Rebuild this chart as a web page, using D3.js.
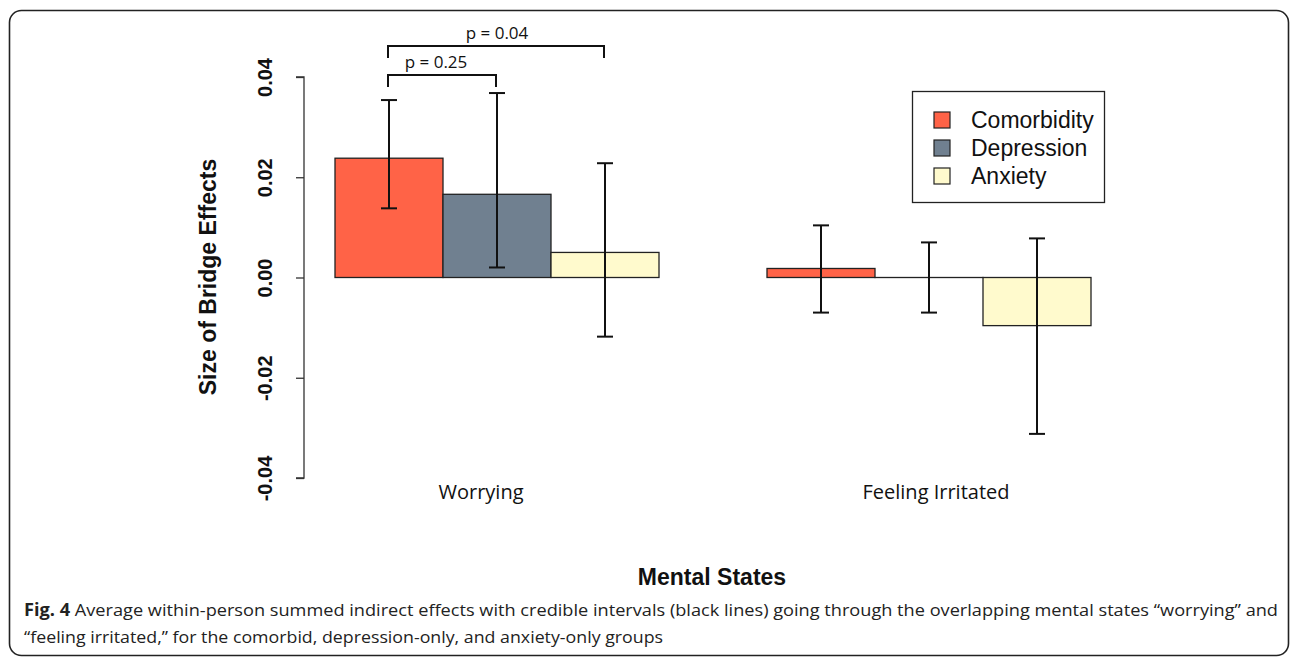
<!DOCTYPE html>
<html><head><meta charset="utf-8">
<script src="https://cdn.jsdelivr.net/npm/d3@7/dist/d3.min.js"></script>
<style>body{margin:0;background:#fff}svg{display:block}</style>
</head><body>
<svg id="c" width="1295" height="661"></svg>
<script>
const categories = ["Worrying", "Feeling Irritated"];
const groups = ["Comorbidity", "Depression", "Anxiety"];
const colors = ["#FF6347", "#708090", "#FFFACD"];
const values = {Worrying: [0.0238, 0.0166, 0.0050], "Feeling Irritated": [0.0018, 0.0, -0.0096]};
const lower = {Worrying: [0.0138, 0.0020, -0.0118], "Feeling Irritated": [-0.0070, -0.0070, -0.0312]};
const upper = {Worrying: [0.0354, 0.0368, 0.0228], "Feeling Irritated": [0.0104, 0.0070, 0.0078]};
const yTicks = [-0.04, -0.02, 0.00, 0.02, 0.04];
const comparisons = [{from: 0, to: 1, label: "p = 0.25", level: 0}, {from: 0, to: 2, label: "p = 0.04", level: 1}];

const svg = d3.select("#c");
const y = d3.scaleLinear().domain([-0.04, 0.04]).range([478, 77]);
// bar units: each bar width 1, one unit gap between groups
const x = d3.scaleLinear().domain([0, 7]).range([335, 1091]);

// outer frame
svg.append("rect").attr("x", 9.5).attr("y", 10.5).attr("width", 1279).attr("height", 645)
  .attr("rx", 12).attr("fill", "none").attr("stroke", "#222").attr("stroke-width", 1.6);

const data = [];
categories.forEach((c, gi) => groups.forEach((g, i) => {
  data.push({cat: c, grp: g, i, u: gi * 4 + i, v: values[c][i], lo: lower[c][i], hi: upper[c][i]});
}));

// bars
svg.append("g").selectAll("rect").data(data).join("rect")
  .attr("x", d => x(d.u)).attr("width", d => x(d.u + 1) - x(d.u))
  .attr("y", d => y(Math.max(0, d.v))).attr("height", d => Math.max(0.01, Math.abs(y(d.v) - y(0))))
  .attr("fill", d => colors[d.i]).attr("stroke", "#222").attr("stroke-width", 1.3);

// error bars
const eb = svg.append("g").attr("stroke", "#111").attr("stroke-width", 2);
data.forEach(d => {
  const cx = x(d.u + 0.5);
  eb.append("line").attr("x1", cx).attr("x2", cx).attr("y1", y(d.lo)).attr("y2", y(d.hi));
  [d.lo, d.hi].forEach(v => eb.append("line").attr("x1", cx - 8).attr("x2", cx + 8).attr("y1", y(v)).attr("y2", y(v)));
});

// y axis
const fmt = d3.format(".2f");
const ax = svg.append("g").attr("transform", "translate(304,0)")
  .call(d3.axisLeft(y).tickValues(yTicks).tickSize(8).tickFormat(d => fmt(d).replace("\u2212", "-")));
ax.select(".domain").attr("stroke", "#333").attr("stroke-width", 1.3).attr("d", `M-8,${y(-0.04)}H0V${y(0.04)}H-8`);
ax.selectAll(".tick line").attr("stroke", "#333").attr("stroke-width", 1.3);
ax.selectAll(".tick text").attr("transform", `translate(-39,0) rotate(-90)`)
  .attr("x", 0).attr("y", 0).attr("dy", "0.35em").attr("text-anchor", "middle")
  .style("font-family", "Liberation Sans, Arial, sans-serif").style("font-weight", "bold").style("font-size", "20px").attr("fill", "#111");

svg.append("text").attr("transform", `translate(216,277) rotate(-90)`).attr("text-anchor", "middle")
  .style("font-family", "Liberation Sans, Arial, sans-serif").style("font-weight", "bold").style("font-size", "23px")
  .attr("fill", "#111").text("Size of Bridge Effects");

// category labels
const catX = [481, 936];
categories.forEach((c, gi) => svg.append("text").attr("x", catX[gi]).attr("y", 499).attr("text-anchor", "middle")
  .style("font-family", "Open Sans, sans-serif").style("font-size", "20px").attr("fill", "#111").text(c));

// significance brackets
const br = svg.append("g").attr("stroke", "#111").attr("stroke-width", 2).attr("fill", "none");
comparisons.forEach(cp => {
  const x1 = x(cp.from + 0.5) - 1, x2 = x(cp.to + 0.5) - 1;
  const by = cp.level === 0 ? 75 : 46;
  br.append("path").attr("d", `M${x1},${by + 12}V${by}H${x2}V${by + 12}`);
  svg.append("text").attr("x", cp.level === 0 ? 436 : 497).attr("y", by - 7).attr("text-anchor", "middle")
    .style("font-family", "Open Sans, sans-serif").style("font-size", "17px").attr("fill", "#111").text(cp.label);
});

// legend
const lg = svg.append("g");
lg.append("rect").attr("x", 912.5).attr("y", 91.5).attr("width", 192).attr("height", 111)
  .attr("fill", "#fff").attr("stroke", "#222").attr("stroke-width", 1.3);
groups.forEach((g, i) => {
  const ly = 120 + i * 28;
  lg.append("rect").attr("x", 934).attr("y", ly - 8).attr("width", 16).attr("height", 16)
    .attr("fill", colors[i]).attr("stroke", "#222").attr("stroke-width", 1.2);
  lg.append("text").attr("x", 971).attr("y", ly).attr("dy", "0.35em")
    .style("font-family", "Liberation Sans, Arial, sans-serif").style("font-size", "23px").attr("fill", "#111").text(g);
});

// x title
svg.append("text").attr("x", 712).attr("y", 585).attr("text-anchor", "middle")
  .style("font-family", "Liberation Sans, Arial, sans-serif").style("font-weight", "bold").style("font-size", "23px")
  .attr("fill", "#111").text("Mental States");

// caption
const cap = svg.append("g").style("font-family", "Open Sans, sans-serif").style("font-size", "17px").attr("fill", "#222");
const l1 = cap.append("text").attr("x", 24).attr("y", 616).attr("textLength", 1254).attr("lengthAdjust", "spacingAndGlyphs");
l1.append("tspan").style("font-weight", "bold").text("Fig. 4");
l1.append("tspan").text(" Average within-person summed indirect effects with credible intervals (black lines) going through the overlapping mental states \u201cworrying\u201d and");
cap.append("text").attr("x", 24).attr("y", 643).attr("textLength", 639).attr("lengthAdjust", "spacingAndGlyphs")
  .text("\u201cfeeling irritated,\u201d for the comorbid, depression-only, and anxiety-only groups");
</script>
</body></html>
